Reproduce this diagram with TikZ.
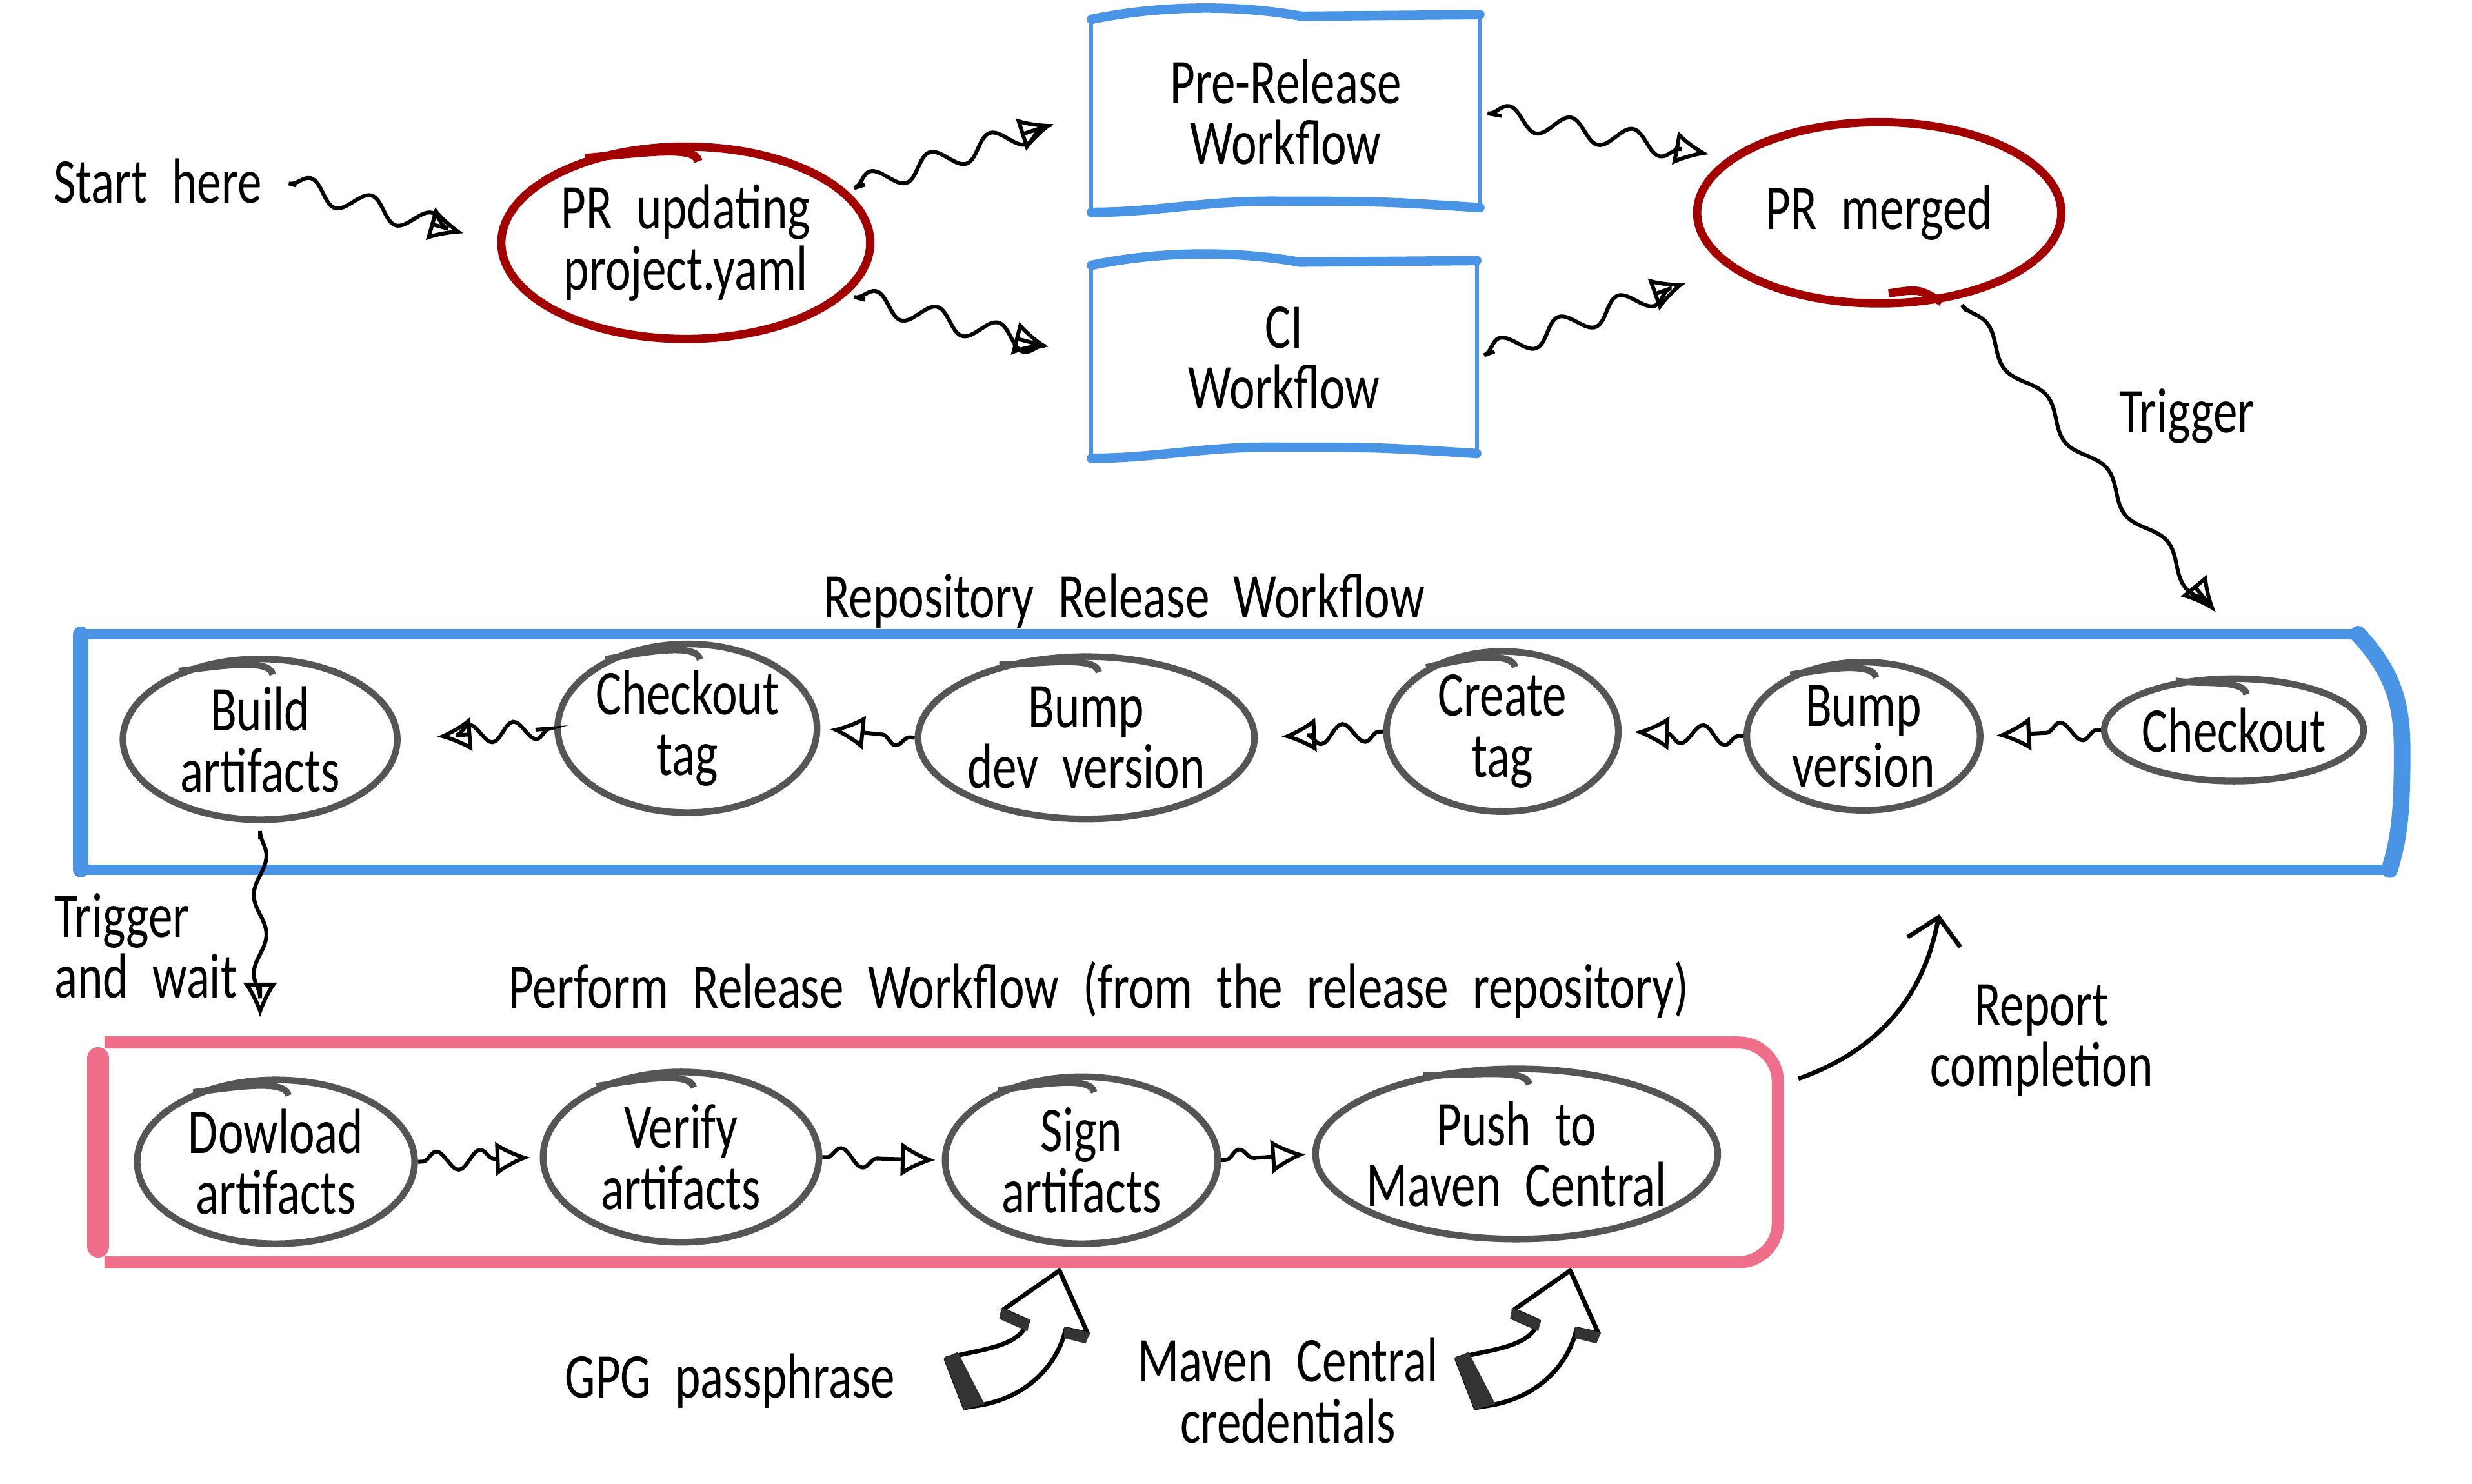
\documentclass[tikz,border=0pt]{standalone}
\usepackage{fontspec}
\setmainfont{Carlito}[FakeStretch=0.76,WordSpace=2.2]
\usepackage{tikz}
\usetikzlibrary{positioning,arrows.meta,shapes.geometric,calc,decorations.pathmorphing}
\definecolor{prred}{HTML}{A30000}
\definecolor{wfblue}{HTML}{4A94E6}
\definecolor{relpink}{HTML}{EF6E8A}
\definecolor{stepgray}{HTML}{555555}
% little overshoot stroke at the top of a hand-drawn loop
\newcommand{\tophook}[2]{\draw[#2] (#1.140) .. controls ($(#1.north)+(-22,6)$) and ($(#1.north)+(6,2)$) .. ($(#1.north)+(8,12)$);}
% box with thin sides and heavy wavy top and bottom
\newcommand{\wfoutline}[1]{%
  \draw[wfblue,line width=0.7pt] (#1.north west) -- (#1.south west) (#1.north east) -- (#1.south east);
  \draw[wfblue,line width=1.7pt,line cap=round] ($(#1.north west)+(0,3)$) .. controls ($(#1.north)+(-90,-4)$) and ($(#1.north)+(-40,-8)$) .. ($(#1.north)+(10,1)$) -- (#1.north east);
  \draw[wfblue,line width=1.7pt,line cap=round] ($(#1.south west)+(0,2)$) .. controls ($(#1.south)+(-80,2)$) and ($(#1.south)+(-50,-6)$) .. ($(#1.south)+(0,-5)$) .. controls ($(#1.south)+(60,-5)$) .. ($(#1.south east)+(0,-1)$);}

\begin{document}
\begin{tikzpicture}[x=0.1mm,y=-0.1mm,font=\fontsize{11.5}{11}\selectfont,>={Latex[open,length=2.2mm,width=2.2mm]},
  prnode/.style={ellipse,draw=prred,line width=1.5pt,inner sep=0pt,align=center},
  wfnode/.style={rectangle,inner sep=0pt,align=center},
  stepnode/.style={ellipse,draw=stepgray,line width=1.2pt,inner sep=0pt,align=center},
  wavy/.style={->,line width=0.7pt,decorate,decoration={snake,amplitude=0.7mm,segment length=4mm,pre length=0.5mm,post length=2.2mm}},
  shortwavy/.style={wavy,decoration={snake,amplitude=0.6mm,segment length=2.8mm,pre length=0.3mm,post length=2.8mm}},
  reparrow/.style={-{Straight Barb[length=1.6mm,width=3.4mm]},line width=0.8pt},
  liftarrow/.pic={
    \draw[line width=0.8pt,fill=white,line join=round] (0,0) -- (18,40) -- (4,37) .. controls (0,55) and (-15,78) .. (-48,85) -- (-60,87) -- (-72,56) .. controls (-55,50) and (-25,50) .. (-20,32) -- (-36,25) -- cycle;
    \filldraw[black!80,line width=0.6pt] (-72,56) -- (-65,53) -- (-49,84) -- (-60,87) -- cycle;
    \filldraw[black!80,line width=0.6pt] (-36,25) -- (-20,32) -- (-21,37) -- (-37,30) -- cycle;
    \filldraw[black!80,line width=0.6pt] (4,37) -- (18,40) -- (16,45) -- (4,42) -- cycle;
  }]
\useasboundingbox (0,0) rectangle (1568,941);
% ---------- top row ----------
\node (start) at (100,115) {Start here};
\node[prnode,minimum width=23.4mm,minimum height=12.2mm] (pr) at (435,154) {PR updating\\project.yaml};
\node[wfnode,minimum width=24.5mm,minimum height=12.2mm] (pre) at (815.5,71) {Pre-Release\\Workflow};
\node[wfnode,minimum width=24.3mm,minimum height=12.2mm] (ci) at (814.5,227) {CI\\Workflow};
\node[prnode,minimum width=23.1mm,minimum height=11.5mm] (merged) at (1192,135) {PR merged};
\wfoutline{pre}
\wfoutline{ci}
\tophook{pr}{prred,line width=1.5pt}
\draw[prred,line width=1.5pt] ($(merged.south)+(6,-9)$) .. controls ($(merged.south)+(25,-12)$) .. (merged.-55);
\draw[wavy,shorten <=1mm,shorten >=2.2mm] (start.east) -- (pr.west);
\draw[wavy,shorten <=1.2mm,shorten >=2.5mm] (pr.18) -- (pre.west);
\draw[wavy,shorten <=1.2mm,shorten >=2.8mm] (pr.-18) -- (ci.west);
\draw[wavy,shorten <=1.4mm,shorten >=1.2mm] (pre.east) -- (merged.160);
\draw[wavy,shorten <=1.2mm,shorten >=2.8mm] (ci.east) -- (merged.200);
% ---------- repository release ----------
\node[inner sep=0pt,minimum width=147.1mm,minimum height=14.8mm] (repo) at (787.5,477) {};
\node (repotitle) at (713,381) {Repository Release Workflow};
\draw[wfblue,line width=1.8pt,line cap=round] ([xshift=-2.8mm]repo.north east) -- (repo.north west);
\draw[wfblue,line width=2.8pt,line cap=round] (repo.north west) -- (repo.south west);
\draw[wfblue,line width=1.8pt,line cap=round] (repo.south west) -- ([xshift=-.8mm]repo.south east);
\draw[wfblue,line width=3pt,line cap=round] ([xshift=-2.8mm]repo.north east) .. controls ($(repo.north east)+(-5,25)$) and ($(repo.east)+(0,-30)$) .. (repo.east) .. controls ($(repo.east)+(0,40)$) and ($(repo.south east)+(-2,-20)$) .. ([xshift=-.8mm]repo.south east);
\node[stepnode,minimum width=17.4mm,minimum height=10.2mm] (build) at (165,469) {Build\\artifacts};
\node[stepnode,minimum width=14.8mm,minimum height=10.7mm] (cotag) at (436,462) {Checkout\\tag};
\node[stepnode,minimum width=19mm,minimum height=10.3mm] (bdev) at (689,468) {Bump\\dev version};
\node[stepnode,minimum width=14.7mm,minimum height=9.2mm] (ctag) at (953,464) {Create\\tag};
\node[stepnode,minimum width=14.8mm,minimum height=9.4mm] (bver) at (1182,467) {Bump\\version};
\node[stepnode,minimum width=14.9mm,minimum height=6.5mm] (chk) at (1417,463) {Checkout};
\foreach \n in {build,cotag,bdev,ctag,bver,chk} {\tophook{\n}{stepgray,line width=1.2pt}}
\draw[wavy,decoration={snake,amplitude=0.5mm,segment length=6mm,post length=2mm},shorten <=1mm,shorten >=1.8mm] (merged.-48) -- (chk.north |- repo.north);
\node (trig) at (1387,264) {Trigger};
\draw[shortwavy,shorten >=0.8mm] (chk.west) -- (bver.east);
\draw[shortwavy,shorten >=0.8mm] (bver.west) -- (ctag.east);
\draw[shortwavy,shorten >=1.5mm] (ctag.west) -- (bdev.east);
\draw[shortwavy,shorten >=0.6mm] (bdev.west) -- (cotag.east);
\draw[shortwavy,shorten <=1.2mm,shorten >=2.3mm] (cotag.west) -- (build.east);
% ---------- perform release ----------
\node[inner sep=0pt,minimum width=107mm,minimum height=13.8mm] (perf) at (592,731) {};
\node (perftitle) at (697,628) {Perform Release Workflow (from the release repository)};
\draw[relpink,line width=2.2pt,rounded corners=2.5mm] ([xshift=1mm]perf.north west) -- (perf.north east) -- (perf.south east) -- ([xshift=1mm]perf.south west);
\draw[relpink,line width=4pt,line cap=round] ([xshift=.6mm,yshift=-1mm]perf.north west) -- ([xshift=.6mm,yshift=1mm]perf.south west);
\node[stepnode,minimum width=17.6mm,minimum height=10.4mm] (dl) at (175,737) {Dowload\\artifacts};
\node[stepnode,minimum width=17.5mm,minimum height=10.8mm] (ver) at (432,734) {Verify\\artifacts};
\node[stepnode,minimum width=17.3mm,minimum height=10.6mm] (sgn) at (686,736) {Sign\\artifacts};
\node[stepnode,inner xsep=-0.5mm,minimum width=21mm,minimum height=10.8mm] (push) at (962,732) {Push to\\Maven Central};
\foreach \n in {dl,ver,sgn,push} {\tophook{\n}{stepgray,line width=1.2pt}}
\draw[wavy,decoration={snake,amplitude=0.4mm,segment length=5mm,post length=2mm},shorten <=1mm,shorten >=1.6mm] (build.south) -- (build.south |- perf.north);
\node[align=left,anchor=west] (wait) at (22,600) {Trigger\\and wait};
\draw[shortwavy,shorten >=0.6mm] (dl.east) -- (ver.west);
\draw[shortwavy,shorten >=0.4mm] (ver.east) -- (sgn.west);
\draw[shortwavy,shorten >=0.4mm] (sgn.east) -- (push.west);
\coordinate (repin) at (1230,580);
\draw[reparrow] ([shift={(1.3mm,-2.3mm)}]perf.north east) to[bend right=30] (repin);
\node[align=center] (rep) at (1295,660) {Report\\completion};
% ---------- secrets ----------
\node (gpg) at (463,876) {GPG passphrase};
\node[align=center] (mvn) at (817,882) {Maven Central\\credentials};
\pic at (672,806) {liftarrow};
\pic at (996,806) {liftarrow};
\end{tikzpicture}
\end{document}
